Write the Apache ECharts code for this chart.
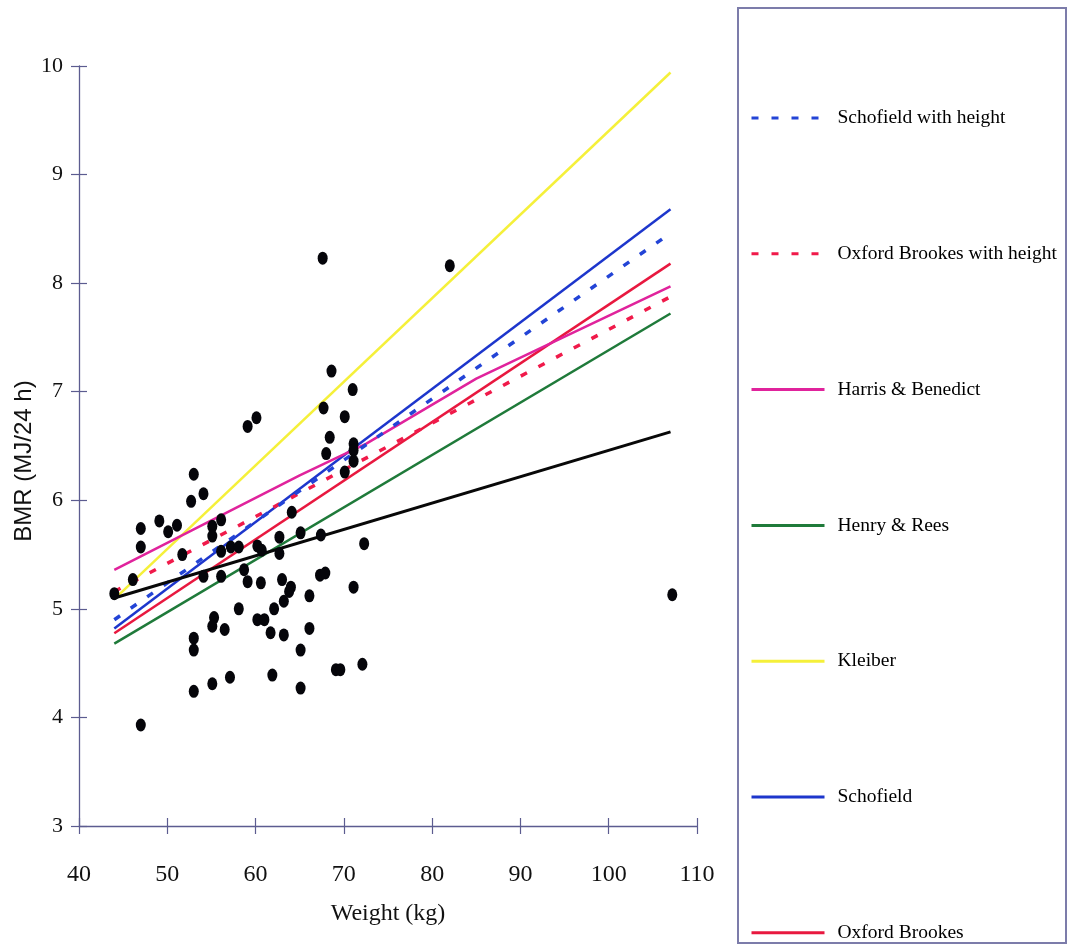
<!DOCTYPE html>
<html>
<head>
<meta charset="utf-8">
<title>BMR vs weight</title>
<script src="https://cdn.jsdelivr.net/npm/echarts@6/dist/echarts.min.js"></script>
<style>
  html, body { margin: 0; padding: 0; background: #ffffff; }
  #chart { width: 1069px; height: 946px; }
</style>
</head>
<body>
<div id="chart"></div>
<script>
// Measured BMR against body weight (kg, MJ/24 h)
const subjectWeight = [
  67.7, 70.1, 59.1, 60.1, 68.4, 71.1, 71.1, 68.0, 71.1, 70.1,
  53.0, 54.1, 52.7, 64.1, 56.1, 49.1, 51.1, 47.0, 50.1, 55.1,
  55.1, 65.1, 67.4, 62.7, 47.0, 51.7, 56.1, 57.2, 58.1, 60.2,
  60.7, 62.7, 72.3, 46.1, 44.0, 54.1, 56.1, 58.7, 59.1, 60.6,
  63.0, 64.0, 67.3, 67.9, 71.1, 63.2, 62.1, 58.1, 66.1, 55.3,
  55.1, 56.5, 60.2, 61.0, 61.7, 63.2, 66.1, 53.0, 53.0, 65.1,
  53.0, 55.1, 57.1, 61.9, 65.1, 69.1, 69.6, 72.1, 47.0, 67.6,
  68.6, 71.0, 82.0, 107.2, 63.8
];
const subjectBMR = [
  6.85, 6.77, 6.68, 6.76, 6.58, 6.52, 6.46, 6.43, 6.36, 6.26,
  6.24, 6.06, 5.99, 5.89, 5.82, 5.81, 5.77, 5.74, 5.71, 5.76,
  5.67, 5.70, 5.68, 5.66, 5.57, 5.50, 5.53, 5.57, 5.57, 5.58,
  5.54, 5.51, 5.60, 5.27, 5.14, 5.30, 5.30, 5.36, 5.25, 5.24,
  5.27, 5.20, 5.31, 5.33, 5.20, 5.07, 5.00, 5.00, 5.12, 4.92,
  4.84, 4.81, 4.90, 4.90, 4.78, 4.76, 4.82, 4.73, 4.62, 4.62,
  4.24, 4.31, 4.37, 4.39, 4.27, 4.44, 4.44, 4.49, 3.93, 8.23,
  7.19, 7.02, 8.16, 5.13, 5.16
];

// Predicted BMR at the lightest and heaviest subject
const lineWeight = [44, 107];
const schofieldWithHeight = [4.90, 8.46];
const oxfordBrookesWithHeight = [5.16, 7.875];
const henryRees = [4.68, 7.72];
const kleiber = [5.09, 9.94];
const schofield = [4.82, 8.68];
const oxfordBrookes = [4.775, 8.18];
const measuredFit = [5.10, 6.63];

// Harris & Benedict also depends on height and age, so it bends slightly
const harrisWeight = [44, 65, 72.5, 85, 107];
const harrisBenedict = [5.36, 6.23, 6.52, 7.12, 7.97];

// Axis ticks
const weightTicks = [40, 50, 60, 70, 80, 90, 100, 110];
const bmrTicks = [3, 4, 5, 6, 7, 8, 9, 10];

const legendNames = [
  'Schofield with height',
  'Oxford Brookes with height',
  'Harris & Benedict',
  'Henry & Rees',
  'Kleiber',
  'Schofield',
  'Oxford Brookes'
];

const serif = '"Liberation Serif", "Times New Roman", serif';
const axisColor = '#5c5c90';

function pairs(xs, ys) {
  return xs.map((x, i) => [x, ys[i]]);
}

function lineSeries(name, xs, ys, color, width, dashed, z) {
  return {
    name: name,
    type: 'line',
    data: pairs(xs, ys),
    showSymbol: false,
    symbol: 'none',
    silent: true,
    z: z,
    lineStyle: {
      color: color,
      width: width,
      type: dashed ? [7, 13] : 'solid',
      cap: 'butt'
    },
    itemStyle: { color: color }
  };
}

const chart = echarts.init(document.getElementById('chart'), null, { renderer: 'canvas' });

const xMin = weightTicks[0], xMax = weightTicks[weightTicks.length - 1];
const yMin = bmrTicks[0], yMax = bmrTicks[bmrTicks.length - 1];

chart.setOption({
  animation: false,
  backgroundColor: '#ffffff',
  grid: { left: 79, top: 66, width: 618, height: 760, containLabel: false },
  xAxis: [
    {
      type: 'value', min: xMin, max: xMax, interval: 10, position: 'bottom',
      splitLine: { show: false },
      axisLine: { show: true, onZero: false, lineStyle: { color: axisColor, width: 1.3 } },
      axisTick: { show: true, length: 8, lineStyle: { color: axisColor, width: 1.2 } },
      axisLabel: {
        margin: 37, fontFamily: serif, fontSize: 24, color: '#111',
        formatter: v => String(v)
      },
      name: 'Weight (kg)', nameLocation: 'middle', nameGap: 76,
      nameTextStyle: { fontFamily: serif, fontSize: 24, color: '#111' }
    },
    {
      type: 'value', min: xMin, max: xMax, interval: 10, position: 'bottom',
      splitLine: { show: false },
      axisLine: { show: false },
      axisTick: { show: true, inside: true, length: 8, lineStyle: { color: axisColor, width: 1.2 } },
      axisLabel: { show: false }
    }
  ],
  yAxis: [
    {
      type: 'value', min: yMin, max: yMax, interval: 1, position: 'left',
      splitLine: { show: false },
      axisLine: { show: true, onZero: false, lineStyle: { color: axisColor, width: 1.3 } },
      axisTick: { show: true, length: 8, lineStyle: { color: axisColor, width: 1.2 } },
      axisLabel: { margin: 16, fontFamily: serif, fontSize: 22, color: '#111' }
    },
    {
      type: 'value', min: yMin, max: yMax, interval: 1, position: 'left',
      splitLine: { show: false },
      axisLine: { show: false },
      axisTick: { show: true, inside: true, length: 8, lineStyle: { color: axisColor, width: 1.2 } },
      axisLabel: { show: false }
    }
  ],
  legend: {
    data: legendNames,
    orient: 'vertical',
    left: 750,
    top: 108,
    padding: 0,
    itemWidth: 73,
    itemHeight: 20,
    itemGap: 115.8,
    selectedMode: false,
    // line samples only, no marker on them
    itemStyle: { opacity: 0 },
    lineStyle: { width: 3 },
    textStyle: {
      fontFamily: serif, fontSize: 19.5, color: '#000', lineHeight: 20,
      padding: [0, 0, 0, 8]
    }
  },
  graphic: [
    {
      type: 'rect',
      shape: { x: 738, y: 8, width: 328, height: 935 },
      style: { fill: 'none', stroke: '#7c7caa', lineWidth: 2 },
      silent: true
    },
    {
      type: 'text',
      x: 24, y: 461,
      rotation: Math.PI / 2,
      style: {
        text: 'BMR (MJ/24 h)',
        font: '24px "Liberation Sans", Arial, sans-serif',
        fill: '#111',
        align: 'center',
        verticalAlign: 'middle'
      },
      silent: true
    }
  ],
  series: [
    lineSeries('Henry & Rees', lineWeight, henryRees, '#1f7a3a', 2.5, false, 2),
    lineSeries('Oxford Brookes', lineWeight, oxfordBrookes, '#e8183f', 2.5, false, 2),
    lineSeries('Schofield', lineWeight, schofield, '#1d36cc', 2.5, false, 2),
    lineSeries('Kleiber', lineWeight, kleiber, '#f5f03a', 2.5, false, 2),
    lineSeries('Harris & Benedict', harrisWeight, harrisBenedict, '#e0239c', 2.5, false, 2),
    lineSeries('Oxford Brookes with height', lineWeight, oxfordBrookesWithHeight, '#f01a4a', 3.5, true, 2),
    lineSeries('Schofield with height', lineWeight, schofieldWithHeight, '#2344d6', 3.5, true, 2),
    lineSeries('Measured fit', lineWeight, measuredFit, '#080808', 3, false, 3),
    {
      name: 'Subjects',
      type: 'scatter',
      data: pairs(subjectWeight, subjectBMR),
      symbol: 'circle',
      symbolSize: [10, 13],
      itemStyle: { color: '#05050a', opacity: 1 },
      silent: true,
      z: 4
    }
  ]
});
</script>
</body>
</html>
